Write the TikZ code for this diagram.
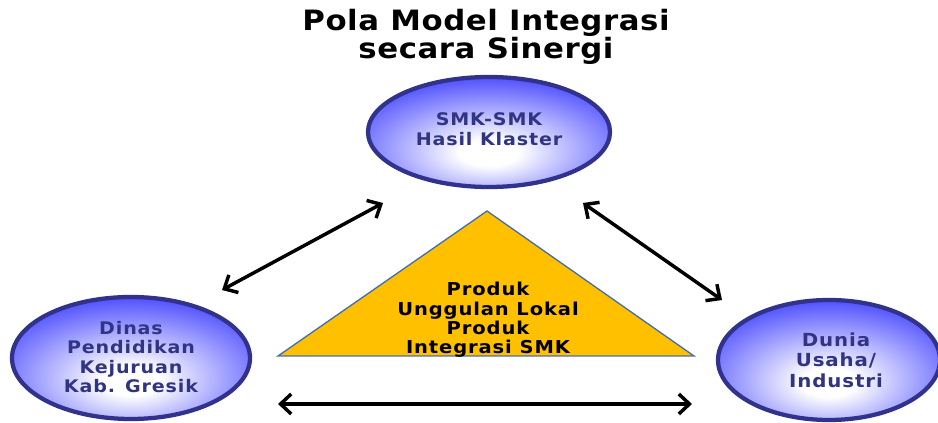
\documentclass[tikz,border=0pt]{standalone}
\usepackage{fontspec}
\setmainfont{DejaVu Sans}[FakeStretch=1.1]
\usetikzlibrary{shapes.geometric,arrows.meta}
\definecolor{navyedge}{RGB}{48,50,140}
\definecolor{txtblue}{RGB}{48,52,130}
\definecolor{ballblue}{RGB}{25,25,255}
\definecolor{trifill}{RGB}{255,192,0}
\definecolor{triedge}{RGB}{70,110,170}
\pgfdeclareradialshading{ballshade}{\pgfpoint{0bp}{-10bp}}{color(0bp)=(white); color(6bp)=(white); color(40bp)=(ballblue); color(100bp)=(ballblue)}
\tikzset{
  ball/.style={ellipse, shading=ballshade, draw=navyedge, line width=3.2pt, inner sep=0pt},
  balltext/.style={font=\bfseries\fontsize{13}{15}\selectfont\addfontfeatures{LetterSpace=5}, text=txtblue, align=center},
  link/.style={black, line width=2.6pt, {Straight Barb[length=8pt,width=15pt,line width=2.6pt]}-{Straight Barb[length=8pt,width=15pt,line width=2.6pt]}},
}
\begin{document}
\begin{tikzpicture}[x=0.75pt,y=-0.75pt]
\useasboundingbox (0,0) rectangle (938,423);
\node[font=\bfseries\fontsize{21}{20.3}\selectfont\addfontfeatures{LetterSpace=2}, align=center] (title) at (486,37) {Pola Model Integrasi\\secara Sinergi};
\node[ball, minimum width=242*0.75pt, minimum height=110*0.75pt] (smk) at (489,132) {};
\node[balltext] (smkt) at (489,129) {SMK-SMK\\Hasil Klaster};
\node[ball, minimum width=238*0.75pt, minimum height=122*0.75pt] (dinas) at (131,358) {};
\node[balltext, font=\bfseries\fontsize{13}{14.5}\selectfont\addfontfeatures{LetterSpace=5}] (dinast) at (131,357) {Dinas\\Pendidikan\\Kejuruan\\Kab. Gresik};
\node[ball, minimum width=222*0.75pt, minimum height=120*0.75pt] (dunia) at (829,360) {};
\node[balltext, font=\bfseries\fontsize{13.5}{15.5}\selectfont\addfontfeatures{LetterSpace=5}] (duniat) at (836,360) {Dunia\\Usaha/\\Industri};
\coordinate (tA) at (487,211);
\coordinate (tL) at (278,356);
\coordinate (tR) at (694,356);
\draw[fill=trifill, draw=triedge, line width=1pt, line join=miter] (tA) -- (tR) -- (tL) -- cycle;
\node[font=\bfseries\fontsize{13.3}{14.5}\selectfont\addfontfeatures{LetterSpace=5}, align=center] (prod) at (488,320) {Produk\\Unggulan Lokal\\Produk\\Integrasi SMK};
\coordinate (a1) at (222,290); \coordinate (a2) at (383,203);
\coordinate (b1) at (583,203); \coordinate (b2) at (722,300);
\coordinate (c1) at (278,404); \coordinate (c2) at (692,404);
\draw[link] (a1) -- (a2);
\draw[link] (b1) -- (b2);
\draw[link] (c1) -- (c2);
\end{tikzpicture}
\end{document}
